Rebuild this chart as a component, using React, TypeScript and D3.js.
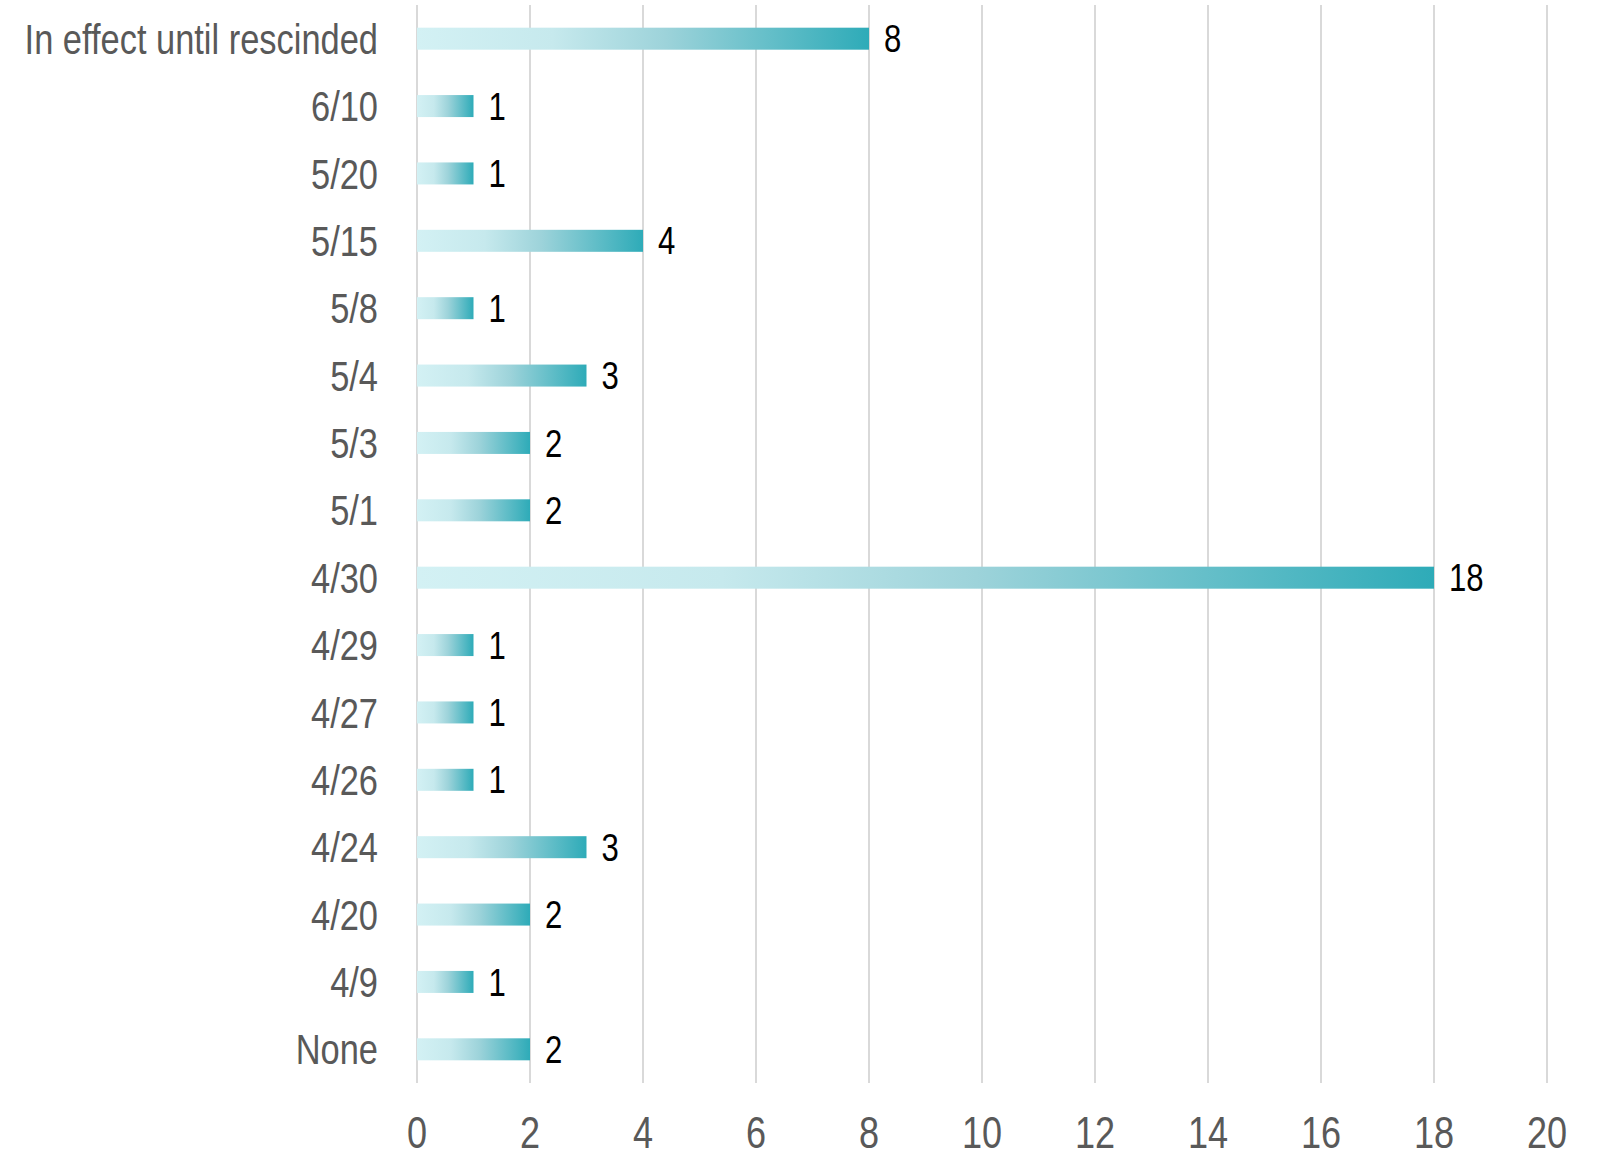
import React from "react";
import * as d3 from "d3";

const categories: string[] = [
  "In effect until rescinded", "6/10", "5/20", "5/15", "5/8", "5/4", "5/3", "5/1",
  "4/30", "4/29", "4/27", "4/26", "4/24", "4/20", "4/9", "None",
];
const values: number[] = [8, 1, 1, 4, 1, 3, 2, 2, 18, 1, 1, 1, 3, 2, 1, 2];
const xTicks: number[] = [0, 2, 4, 6, 8, 10, 12, 14, 16, 18, 20];

const W = 1597;
const H = 1155;
const FONT = "'Liberation Sans', Arial, sans-serif";
const SX = 0.82;

function NText(props: { x: number; y: number; anchor?: string; size: number; fill: string; dy?: string; children: React.ReactNode }) {
  return (
    <text
      transform={`translate(${props.x},${props.y}) scale(${SX},1)`}
      dy={props.dy}
      textAnchor={props.anchor || "start"}
      fontFamily={FONT}
      fontSize={props.size}
      fill={props.fill}
    >
      {props.children}
    </text>
  );
}

export default function App() {
  const x = d3.scaleLinear().domain([0, 20]).range([417, 1547]);
  const y = d3.scaleBand<string>().domain(categories).range([5, 1083]);
  const barH = 22;

  return (
    <div style={{ position: "absolute", left: 0, top: 0 }}>
      <svg width={W} height={H} style={{ display: "block" }}>
        <defs>
          <linearGradient id="barGrad" x1="0" x2="1" y1="0" y2="0">
            <stop offset="0" stopColor="#d3f1f4" />
            <stop offset="0.3" stopColor="#c6e9ed" />
            <stop offset="0.55" stopColor="#9dd3da" />
            <stop offset="1" stopColor="#2eabb8" />
          </linearGradient>
        </defs>
        {xTicks.map((t) => (
          <line key={"g" + t} x1={x(t)} x2={x(t)} y1={5} y2={1083} stroke="#d9d9d9" strokeWidth={2} />
        ))}
        {categories.map((c, i) => {
          const cy = (y(c) as number) + y.bandwidth() / 2;
          return (
            <g key={c}>
              <rect x={x(0)} y={cy - barH / 2} width={x(values[i]) - x(0)} height={barH} fill="url(#barGrad)" />
              <NText x={x(values[i]) + 15} y={cy} dy="0.36em" size={38} fill="#000">
                {values[i]}
              </NText>
              <NText x={378} y={cy} dy="0.36em" anchor="end" size={42} fill="#595959">
                {c}
              </NText>
            </g>
          );
        })}
        {xTicks.map((t) => (
          <NText key={"t" + t} x={x(t)} y={1148} anchor="middle" size={44} fill="#595959">
            {t}
          </NText>
        ))}
      </svg>
    </div>
  );
}
